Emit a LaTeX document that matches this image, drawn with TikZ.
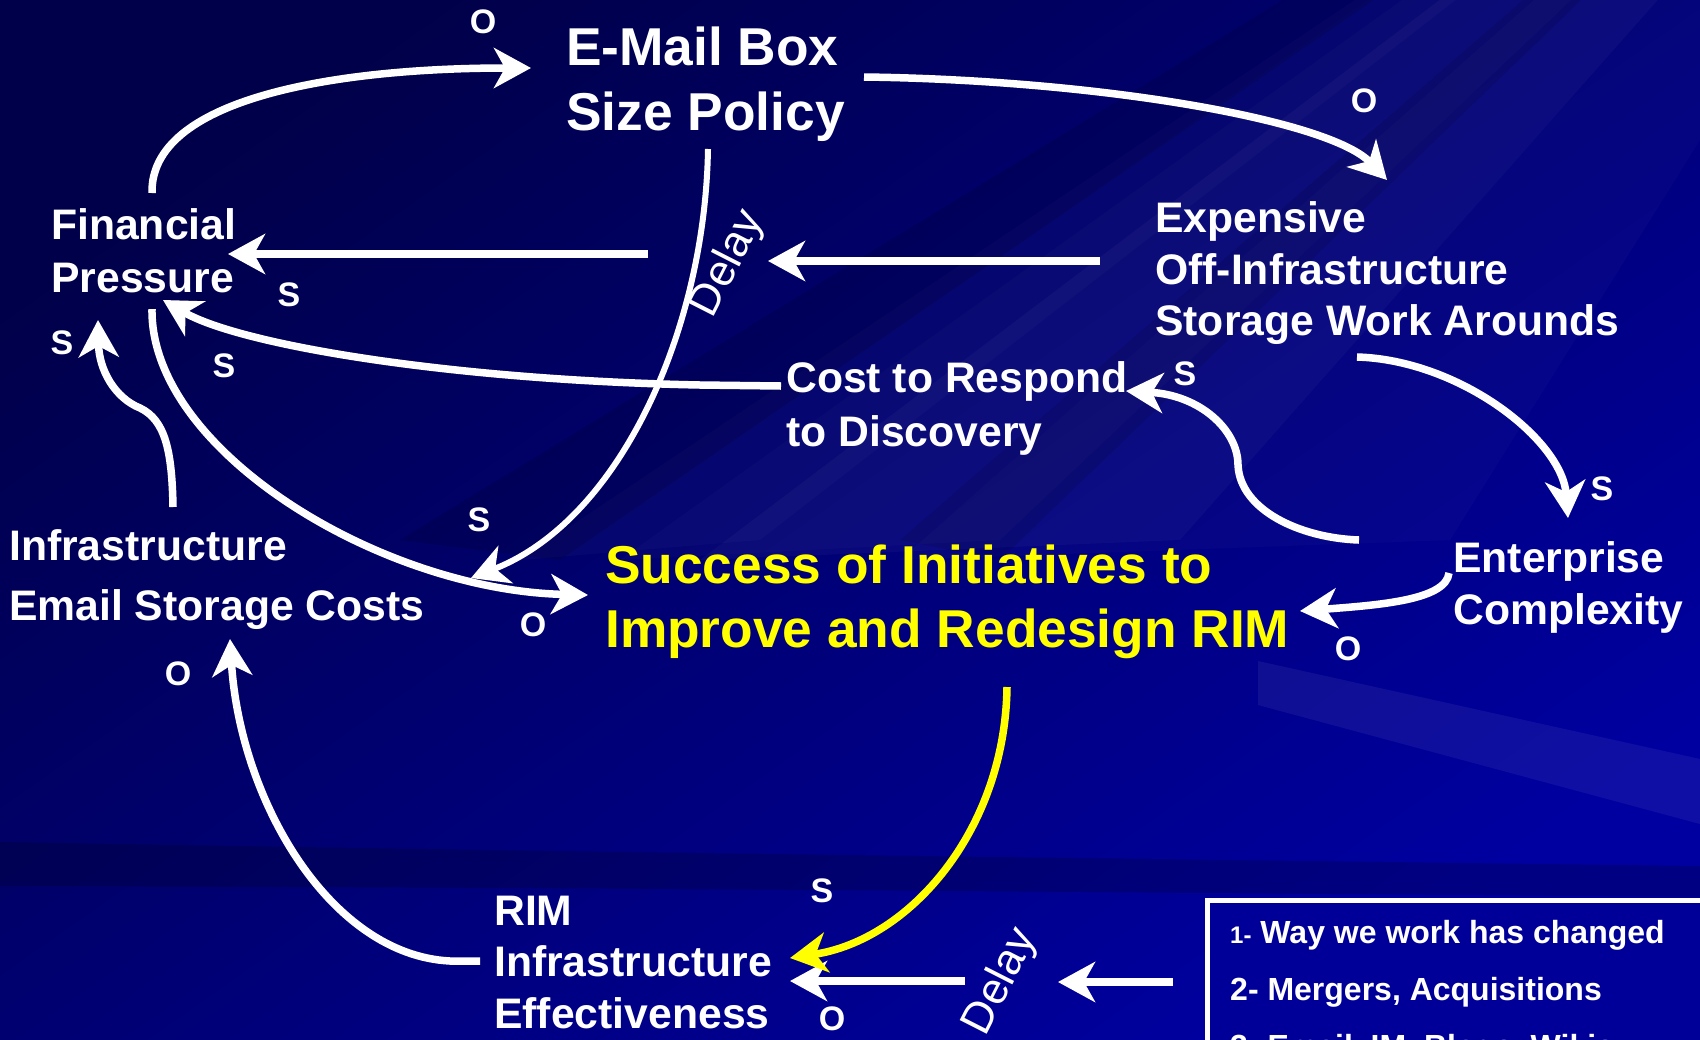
\documentclass[tikz,border=0pt]{standalone}
\usepackage{fontspec}
\setmainfont{Liberation Sans}
\usetikzlibrary{arrows.meta}
\definecolor{bgdark}{HTML}{00004A}
\definecolor{bgmid}{HTML}{000078}
\definecolor{bglight}{HTML}{0000A0}
\definecolor{rimyellow}{HTML}{FFFF00}
\definecolor{boxfill}{HTML}{000098}
\begin{document}
\begin{tikzpicture}[x=1pt,y=-1pt,
  txt/.style={inner sep=0pt, anchor=north west, align=left, text=white, font=\bfseries\fontsize{42.7}{53}\selectfont},
  big/.style={font=\bfseries\fontsize{53.3}{65}\selectfont},
  lab/.style={inner sep=0pt, text=white, font=\bfseries\fontsize{34}{40}\selectfont},
  dly/.style={inner sep=0pt, text=white, font=\fontsize{44}{50}\selectfont, rotate=63},
  conn/.style={draw=white, line width=7.5pt, -{Stealth[length=37pt,width=40pt,inset=11pt]}},
  thinconn/.style={conn, line width=6pt},
  yconn/.style={conn, draw=rimyellow, -{Stealth[length=37pt,width=40pt,inset=11pt,fill=rimyellow]}},
  ]
\useasboundingbox (0,0) rectangle (1700,1039);
\clip (0,0) rectangle (1700,1039);
% background
\shade[top color=bgdark, middle color=bgmid, bottom color=bglight, shading angle=35] (0,0) rectangle (1700,1039);
\foreach \a/\b/\o in {760/520/0.025, 1000/620/0.02, 1180/700/0.03, 1450/900/0.02} {
  \fill[white, opacity=\o] (2100,-500) -- (\a,540) -- (\b,560) -- cycle;
}
\foreach \a/\b/\o in {400/560/0.12, 900/1000/0.10} {
  \fill[black, opacity=\o] (2100,-500) -- (\a,540) -- (\b,560) -- cycle;
}
\fill[white, opacity=0.06] (1258,661) -- (1700,759) -- (1700,824) -- (1258,705) -- cycle;
\fill[black, opacity=0.18] (0,842) .. controls (600,852) .. (1700,866) -- (1700,897) .. controls (600,888) .. (0,886) -- cycle;

% legend box
\draw[white, line width=5pt, fill=boxfill] (1207.5,900.5) rectangle (1760,1100);
\node[txt, font=\bfseries\fontsize{32}{57}\selectfont] (legend) at (1230,920.5)
  {{\fontsize{24}{57}\selectfont 1-} Way we work has changed\\2- Mergers, Acquisitions\\3- Email, IM, Blogs, Wikis};

% text nodes
\node[txt,big] (email) at (566,27) {E-Mail Box\\Size Policy};
\node[txt] (fin) at (51,208.5) {Financial\\Pressure};
\node[txt, font=\bfseries\fontsize{42.7}{51.5}\selectfont] (exp) at (1155,201.5) {Expensive\\Off-Infrastructure\\Storage Work Arounds};
\node[txt, font=\bfseries\fontsize{42.7}{54}\selectfont] (cost) at (786,361) {Cost to Respond\\to Discovery};
\node[txt, font=\bfseries\fontsize{42.7}{60}\selectfont] (infra) at (9,529.5) {Infrastructure\\Email Storage Costs};
\node[txt, font=\bfseries\fontsize{53.3}{64}\selectfont, text=rimyellow] (succ) at (605,545) {Success of Initiatives to\\Improve and Redesign RIM};
\node[txt, font=\bfseries\fontsize{42.7}{51.5}\selectfont] (ent) at (1453,541.5) {Enterprise\\Complexity};
\node[txt, font=\bfseries\fontsize{42.7}{51.5}\selectfont] (rim) at (494,895.5) {RIM\\Infrastructure\\Effectiveness};

% connector end points
\coordinate (c1s) at (152,193);  \coordinate (c1e) at (531,68);
\coordinate (c2s) at (864,77);   \coordinate (c2e) at (1387,180);
\coordinate (c3a) at (1100,261); \coordinate (c3b) at (768,261);
\coordinate (c3c) at (648,254);  \coordinate (c3d) at (228,254);
\coordinate (c4s) at (781,386);  \coordinate (c4e) at (163,300);
\coordinate (c5s) at (152,309);  \coordinate (c5e) at (588,595);
\coordinate (c6s) at (708,149);  \coordinate (c6e) at (471,578);
\coordinate (c7s) at (173,507);  \coordinate (c7e) at (98,320);
\coordinate (c8s) at (1359,540); \coordinate (c8e) at (1126,391);
\coordinate (c9s) at (1357,357); \coordinate (c9e) at (1568,518);
\coordinate (c10s) at (1449,573); \coordinate (c10e) at (1300,611);
\coordinate (c11s) at (1007,687); \coordinate (c11e) at (790,958);
\coordinate (c12a) at (1173,982); \coordinate (c12b) at (1058,982);
\coordinate (c12c) at (965,981);  \coordinate (c12d) at (790,981);
\coordinate (c13s) at (480,961);  \coordinate (c13e) at (230,639);

% connectors
\draw[conn] (c1s) .. controls (150,100) and (330,68) .. (c1e);
\draw[conn] (c2s) .. controls (1100,80) and (1330,120) .. (c2e);
\draw[conn] (c3a) -- (c3b);
\draw[conn] (c3c) -- (c3d);
\draw[conn] (c4s) -- (700,385) .. controls (450,380) and (240,345) .. (c4e);
\draw[conn] (c5s) .. controls (150,450) and (380,590) .. (c5e);
\draw[thinconn] (c6s) .. controls (705,330) and (620,520) .. (c6e);
\draw[conn] (c7s) .. controls (172,450) and (165,420) .. (140,408) .. controls (115,398) and (99,370) .. (c7e);
\draw[conn] (c8s) .. controls (1300,538) and (1240,510) .. (1238,465) .. controls (1238,430) and (1200,395) .. (c8e);
\draw[conn] (c9s) .. controls (1460,360) and (1562,440) .. (c9e);
\draw[conn] (c10s) .. controls (1446,600) and (1380,605) .. (c10e);
\draw[conn] (c12a) -- (c12b);
\draw[conn] (c12c) -- (c12d);
\draw[yconn] (c11s) .. controls (1005,830) and (910,940) .. (c11e);
\draw[conn] (c13s) -- (450,961) .. controls (330,955) and (240,800) .. (c13e);

% delay labels
\node[dly] (delay1) at (728,264) {Delay};
\node[dly] (delay2) at (1001,982) {Delay};

% polarity labels
\node[lab] (l1) at (483,22) {O};
\node[lab] (l2) at (1364,101) {O};
\node[lab] (l3) at (289,295) {S};
\node[lab] (l4) at (224,366) {S};
\node[lab] (l5) at (62,343) {S};
\node[lab] (l6) at (479,520) {S};
\node[lab] (l7) at (533,625) {O};
\node[lab] (l8) at (178,674) {O};
\node[lab] (l9) at (1185,374) {S};
\node[lab] (l10) at (1602,489) {S};
\node[lab] (l11) at (1348,649) {O};
\node[lab] (l12) at (822,891) {S};
\node[lab] (l13) at (832,1019) {O};
\end{tikzpicture}
\end{document}
